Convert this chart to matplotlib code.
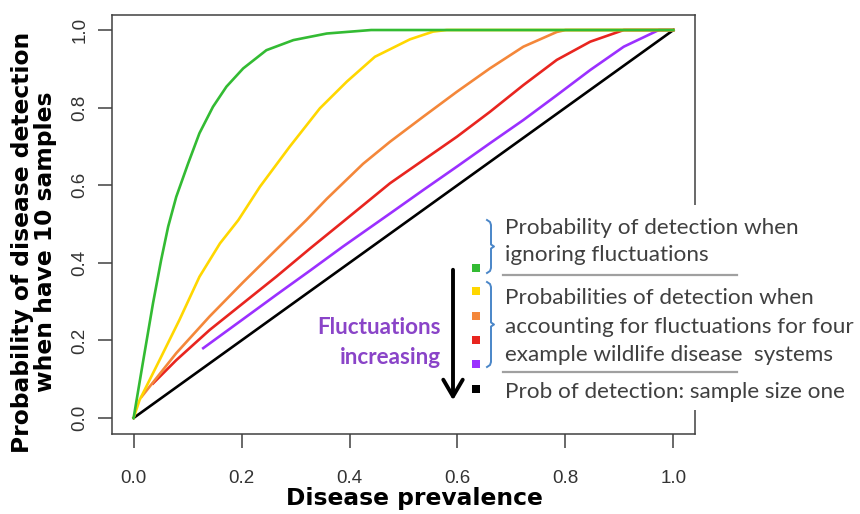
import matplotlib
matplotlib.use("Agg")
import matplotlib.pyplot as plt
from matplotlib.patches import Rectangle, FancyArrowPatch
from matplotlib.lines import Line2D

# 读图估计的曲线数据（患病率 -> 检测概率）
green_x = [0, 0.017, 0.036, 0.051, 0.064, 0.079, 0.101, 0.122, 0.147, 0.172, 0.203, 0.246, 0.296, 0.358, 0.44, 0.6, 1.0]
green_y = [0, 0.141, 0.296, 0.407, 0.493, 0.570, 0.656, 0.734, 0.802, 0.854, 0.901, 0.948, 0.974, 0.991, 1.0, 1.0, 1.0]

yellow_x = [0, 0.011, 0.048, 0.085, 0.122, 0.160, 0.194, 0.234, 0.289, 0.345, 0.395, 0.447, 0.512, 0.555, 0.58, 1.0]
yellow_y = [0, 0.046, 0.149, 0.253, 0.364, 0.450, 0.510, 0.596, 0.699, 0.798, 0.867, 0.931, 0.976, 0.996, 1.0, 1.0]

orange_x = [0.015, 0.079, 0.141, 0.203, 0.265, 0.32, 0.358, 0.425, 0.475, 0.537, 0.599, 0.660, 0.722, 0.784, 0.80, 1.0]
orange_y = [0.055, 0.167, 0.262, 0.350, 0.435, 0.51, 0.565, 0.655, 0.712, 0.777, 0.841, 0.901, 0.957, 0.995, 1.0, 1.0]

red_x = [0.036, 0.079, 0.141, 0.203, 0.265, 0.327, 0.388, 0.475, 0.537, 0.599, 0.660, 0.722, 0.784, 0.846, 0.908, 1.0]
red_y = [0.089, 0.149, 0.227, 0.296, 0.365, 0.437, 0.506, 0.605, 0.665, 0.725, 0.789, 0.858, 0.923, 0.970, 1.0, 1.0]

purple_x = [0.129, 0.203, 0.265, 0.327, 0.388, 0.475, 0.537, 0.599, 0.660, 0.722, 0.784, 0.846, 0.908, 0.973, 1.0]
purple_y = [0.180, 0.255, 0.318, 0.380, 0.442, 0.527, 0.588, 0.648, 0.708, 0.768, 0.832, 0.897, 0.957, 1.0, 1.0]

black_x = [0, 0.25, 0.5, 0.75, 1.0]
black_y = [0, 0.25, 0.5, 0.75, 1.0]

ticks = [0.0, 0.2, 0.4, 0.6, 0.8, 1.0]
tick_labels = ["0.0", "0.2", "0.4", "0.6", "0.8", "1.0"]

legend_colors = ["#33bb33", "#ffd700", "#f4873a", "#e8251f", "#9b30ff", "black"]
legend_lines = [
    "Probability of detection when",
    "ignoring fluctuations",
    "Probabilities of detection when",
    "accounting for fluctuations for four",
    "example wildlife disease  systems",
    "Prob of detection: sample size one",
]

W, H = 860, 514


def fx(px):
    return px / W


def fy(py):
    return 1 - py / H


fig = plt.figure(figsize=(8.6, 5.14), dpi=100)
ax = fig.add_axes([fx(112), fy(433.5), fx(695) - fx(112), fy(14.5) - fy(433.5)])

ax.plot(black_x, black_y, color="black", lw=1.9)
ax.plot(purple_x, purple_y, color="#9b30ff", lw=1.9)
ax.plot(red_x, red_y, color="#e8251f", lw=1.9)
ax.plot(orange_x, orange_y, color="#f4873a", lw=1.9)
ax.plot(yellow_x, yellow_y, color="#ffd700", lw=1.9)
ax.plot(green_x, green_y, color="#33bb33", lw=1.9)

ax.set_xlim(-0.04, 1.04)
ax.set_ylim(-0.04, 1.04)
ax.set_xticks(ticks)
ax.set_yticks(ticks)
ax.set_xticklabels(tick_labels)
ax.set_yticklabels(tick_labels, rotation=90, va="center")
ax.tick_params(length=10, width=1.1, color="#404040", labelcolor="#333333",
               labelsize=13.5, labelfontfamily="Liberation Sans")
ax.tick_params(axis="x", pad=16)
ax.tick_params(axis="y", pad=7)
for s in ax.spines.values():
    s.set_color("#404040")
    s.set_linewidth(1.1)

# 轴标签
fig.text(fx(414), fy(499), "Disease prevalence", ha="center", va="center",
         fontsize=16.8, fontweight="bold", family="DejaVu Sans")
fig.text(fx(34), fy(242), "Probability of disease detection\nwhen have 10 samples",
         ha="center", va="center", rotation=90, fontsize=16.8, fontweight="bold",
         family="DejaVu Sans", linespacing=1.05)

# 图例区域的白底
fig.patches.append(Rectangle((fx(470), fy(410)), fx(860) - fx(470), fy(205) - fy(410),
                             transform=fig.transFigure, facecolor="white", edgecolor="none", zorder=1))

# 彩色小方块
sq_y = [268, 291, 316, 340, 364, 389]
for c, y in zip(legend_colors, sq_y):
    fig.patches.append(Rectangle((fx(472), fy(y + 4)), fx(8), 8 / H, transform=fig.transFigure,
                                 facecolor=c, edgecolor="none", zorder=2))

# 文字
text_y = [228, 255, 298, 327, 355, 392]
for t, y in zip(legend_lines, text_y):
    fig.text(fx(505), fy(y), t, ha="left", va="center", fontsize=16.2, family="Lato",
             color="#404040", zorder=3)

# 灰色分隔线
for y in [275, 372]:
    fig.lines.append(Line2D([fx(503), fx(737)], [fy(y), fy(y)], transform=fig.transFigure,
                            color="#a0a0a0", lw=1.6, zorder=2))


# 蓝色花括号
def brace(x, y0, y1):
    ym = (y0 + y1) / 2
    xs = [x - 4, x - 1, x, x, x + 3, x, x, x - 1, x - 4]
    ys = [y0, y0 + 2, y0 + 5, ym - 2, ym, ym + 2, y1 - 5, y1 - 2, y1]
    fig.lines.append(Line2D([fx(v) for v in xs], [fy(v) for v in ys], transform=fig.transFigure,
                            color="#4a86c8", lw=1.4, zorder=2))


brace(491, 220, 273)
brace(491, 282, 367)

# 箭头
fig.patches.append(FancyArrowPatch(
    (fx(453), fy(267)), (fx(453), fy(403)), transform=fig.transFigure,
    arrowstyle="->,head_length=12,head_width=7", lw=2.8, color="black", zorder=3))

fig.text(fx(441), fy(328), "Fluctuations", ha="right", va="center", fontsize=16.2,
         fontweight="bold", family="Lato", color="#8a44c8")
fig.text(fx(441), fy(357), "increasing", ha="right", va="center", fontsize=16.2,
         fontweight="bold", family="Lato", color="#8a44c8")

fig.savefig("out.png", dpi=100)
